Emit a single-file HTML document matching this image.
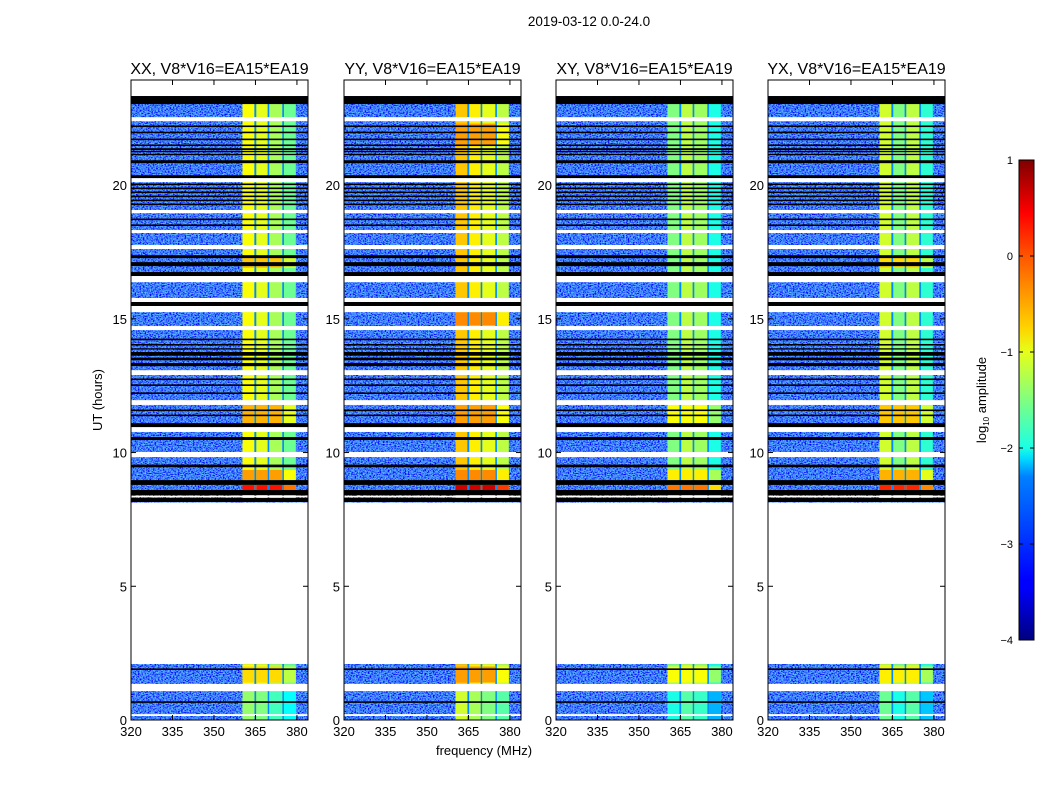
<!DOCTYPE html>
<html><head><meta charset="utf-8"><style>
html,body{margin:0;padding:0;background:#fff;}
svg text{font-family:"Liberation Sans",sans-serif;}
</style></head><body>
<svg id="fig" width="1050" height="800" xmlns="http://www.w3.org/2000/svg">
<defs>
<filter id="noise" x="0" y="0" width="1" height="1" filterUnits="objectBoundingBox">
<feTurbulence type="fractalNoise" baseFrequency="0.6 0.9" numOctaves="2" seed="3"/>
<feColorMatrix type="matrix" values="0.3 0 0 0 -0.1  1.4 0 0 0 -0.48  0.3 0 0 0 0.85  0 0 0 0 1"/>
</filter>
<linearGradient id="jet" x1="0" y1="1" x2="0" y2="0">
<stop offset="0" stop-color="#00007f"/><stop offset="0.11" stop-color="#0000ff"/>
<stop offset="0.125" stop-color="#0000ff"/><stop offset="0.34" stop-color="#0080ff"/>
<stop offset="0.375" stop-color="#00d4ff"/><stop offset="0.4" stop-color="#1affe6"/>
<stop offset="0.5" stop-color="#80ff80"/><stop offset="0.6" stop-color="#e6ff1a"/>
<stop offset="0.65" stop-color="#ffd400"/><stop offset="0.8" stop-color="#ff5500"/>
<stop offset="0.89" stop-color="#ff0000"/><stop offset="1" stop-color="#7f0000"/>
</linearGradient>
</defs>
<text x="589" y="26" font-size="13.5" text-anchor="middle">2019-03-12 0.0-24.0</text>
<text x="484" y="755" font-size="13" text-anchor="middle">frequency (MHz)</text>
<text x="102" y="400" font-size="13" text-anchor="middle" transform="rotate(-90 102 400)">UT (hours)</text>
<g id="panels"></g>
<g id="cbar"></g>
</svg>
<script>
const titles = ["XX, V8*V16=EA15*EA19","YY, V8*V16=EA15*EA19","XY, V8*V16=EA15*EA19","YX, V8*V16=EA15*EA19"];
const xTicks = [320,335,350,365,380];
const yTicks = [0,5,10,15,20];
const channels = [[360.3,364.6],[365.3,369.4],[370.0,374.7],[375.3,379.6]];
const dataSegs = [[0.0,2.09],[8.15,23.33]];
const whiteSegs = [[0.15,0.22],[1.08,1.35],[9.83,10.02],[10.77,10.95],[11.78,11.96],[12.90,13.08],[14.58,14.73],[15.25,15.48],[15.63,15.78],[16.37,16.60],[17.61,17.76],[18.21,18.32],[18.95,19.07],[20.11,20.26],[22.39,22.54],[8.34,8.38]];
const blackSegs = [[23.03,23.33],[22.17,22.23],[21.94,22.0],[21.68,21.74],[21.46,21.52],[21.31,21.38],[21.23,21.28],[21.12,21.17],[20.82,20.93],[20.26,20.37],[20.0,20.06],[19.85,19.91],[19.70,19.76],[19.55,19.61],[19.40,19.46],[19.25,19.31],[18.69,18.75],[18.47,18.53],[17.27,17.38],[16.97,17.12],[16.60,16.75],[15.48,15.63],[14.2,14.26],[14.0,14.06],[13.85,13.9],[13.62,13.76],[13.45,13.55],[13.23,13.35],[12.71,12.77],[12.49,12.55],[12.19,12.25],[11.55,11.61],[11.36,11.42],[10.95,11.10],[10.47,10.58],[9.45,9.55],[8.79,8.97],[8.41,8.60],[8.15,8.30],[1.87,1.93],[0.64,0.70]];
// band base log10 amplitudes per panel (4 channels)
const bandXX = [-0.9,-1.0,-1.3,-1.6];
const bandYY = [-0.6,-0.8,-1.0,-1.2];
const bandXY = [-1.5,-1.2,-1.35,-2.0];
const bandYX = [-1.1,-1.5,-1.2,-1.9];
// hot rows: [h0,h1,value]
const hotXX = [[11.0,11.8,-0.5],[8.97,9.35,-0.4],[8.60,8.79,0.3],[1.4,2.0,-0.7],[16.9,17.3,-0.6]];
const hotYY = [[11.0,11.8,-0.4],[8.97,9.35,-0.3],[8.60,8.79,0.6],[1.4,2.0,-0.4],[14.75,15.25,-0.3],[21.5,22.3,-0.4]];
const hotXY = [[11.0,11.8,-0.9],[8.97,9.35,-0.8],[8.60,8.79,-0.2],[1.4,2.0,-0.9]];
const hotYX = [[11.0,11.8,-0.6],[8.97,9.35,-0.5],[8.60,8.79,0.2],[1.4,2.0,-0.8],[16.9,17.3,-0.7]];
const lowOffset = [[0.0,1.08,-0.5]];
const cbTicks = [1,0,-1,-2,-3,-4];
const gapVal = -2.7;

const bands=[bandXX,bandYY,bandXY,bandYX], hots=[hotXX,hotYY,hotXY,hotYX];
const panelX=[131,344,556,768], PW=177, PT=80, PB=720;
const xMin=320,xMax=384,yMin=0,yMax=23.93;
const NS="http://www.w3.org/2000/svg";
function jet(v){let t=(v+4)/5;t=Math.max(0,Math.min(1,t));
 const r=Math.max(0,Math.min(1,1.5-Math.abs(4*t-3))),g=Math.max(0,Math.min(1,1.5-Math.abs(4*t-2))),b=Math.max(0,Math.min(1,1.5-Math.abs(4*t-1)));
 return `rgb(${Math.round(r*255)},${Math.round(g*255)},${Math.round(b*255)})`;}
function el(t,a,p){const e=document.createElementNS(NS,t);for(const k in a)e.setAttribute(k,a[k]);p.appendChild(e);return e;}
const yS=h=>PB-(h-yMin)/(yMax-yMin)*(PB-PT);
const root=document.getElementById('panels');
bands.forEach((band,i)=>{
 const x0=panelX[i]; const xS=f=>x0+(f-xMin)/(xMax-xMin)*PW;
 const g=el('g',{},root);
 
 
 const cp=el('clipPath',{id:'cp'+i},g); el('rect',{x:x0,y:PT,width:PW,height:PB-PT},cp);
 const hm=el('g',{'clip-path':`url(#cp${i})`},g);
 
 
 dataSegs.forEach(s=>{
  const r=el('rect',{x:x0,y:yS(s[1]),width:PW,height:yS(s[0])-yS(s[1]),filter:'url(#noise)'},hm);
  
  
  el('rect',{x:xS(channels[0][0]),y:yS(s[1]),width:xS(channels[3][1])-xS(channels[0][0]),height:yS(s[0])-yS(s[1]),fill:jet(gapVal)},hm);
  channels.forEach((c,j)=>{
   const r2=el('rect',{x:xS(c[0]),y:yS(s[1]),width:xS(c[1])-xS(c[0]),height:yS(s[0])-yS(s[1]),fill:jet(band[j])},hm);
   
   
  });
 });
 lowOffset.forEach(o=>channels.forEach((c,j)=>{
  el('rect',{x:xS(c[0]),y:yS(o[1]),width:xS(c[1])-xS(c[0]),height:yS(o[0])-yS(o[1]),fill:jet(band[j]+o[2])},hm);
 }));
 hots[i].forEach(o=>channels.forEach((c,j)=>{
  const v=j<3?o[2]:o[2]-0.5;
  const r3=el('rect',{x:xS(c[0]),y:yS(o[1]),width:xS(c[1])-xS(c[0]),height:yS(o[0])-yS(o[1]),fill:jet(v)},hm);
  
  
 }));
 blackSegs.forEach(s=>el('rect',{x:x0,y:yS(s[1]),width:PW,height:Math.max(1.2,yS(s[0])-yS(s[1])),fill:'#000'},hm));
 whiteSegs.forEach(s=>el('rect',{x:x0,y:yS(s[1]),width:PW,height:Math.max(1.2,yS(s[0])-yS(s[1])),fill:'#fff'},hm));
 const fr=el('rect',{x:x0,y:PT,width:PW,height:PB-PT,fill:'none',stroke:'#000','stroke-width':1},g);
 
 
 xTicks.forEach(t=>{const x=xS(t);
  el('line',{x1:x,x2:x,y1:PB,y2:PB-5,stroke:'#000'},g);el('line',{x1:x,x2:x,y1:PT,y2:PT+5,stroke:'#000'},g);
  const tx=el('text',{x:x,y:PB+16,'font-size':13,'text-anchor':'middle'},g);tx.textContent=t;
  
  });
 yTicks.forEach(t=>{const y=yS(t);
  el('line',{x1:x0,x2:x0+5,y1:y,y2:y,stroke:'#000'},g);el('line',{x1:x0+PW,x2:x0+PW-5,y1:y,y2:y,stroke:'#000'},g);
  const tx=el('text',{x:x0-4,y:y+5,'font-size':13,'text-anchor':'end'},g);tx.textContent=t;
  
  });
 const tt=el('text',{x:x0+PW/2,y:74,'font-size':16,'text-anchor':'middle'},g);tt.textContent=titles[i];
 
 
});
// colorbar
const cb=document.getElementById('cbar');
const cx=1019,cw=15,ct=160,cbot=640;
el('rect',{x:cx,y:ct,width:cw,height:cbot-ct,fill:'url(#jet)',stroke:'#000'},cb);
cbTicks.forEach(v=>{const y=cbot-(v+4)/5*(cbot-ct);
 el('line',{x1:cx,x2:cx+4,y1:y,y2:y,stroke:'#000'},cb);el('line',{x1:cx+cw,x2:cx+cw-4,y1:y,y2:y,stroke:'#000'},cb);
 const t=el('text',{x:1013,y:y+4,'font-size':11,'text-anchor':'end'},cb);t.textContent=(v<0?'\u2212'+(-v):v);
 
 });
const lb=el('text',{x:986,y:400,'font-size':13,'text-anchor':'middle',transform:'rotate(-90 986 400)'},cb);
lb.innerHTML='log<tspan font-size="8" dy="3">10</tspan><tspan dy="-3"> amplitude</tspan>';


</script>
</body></html>
